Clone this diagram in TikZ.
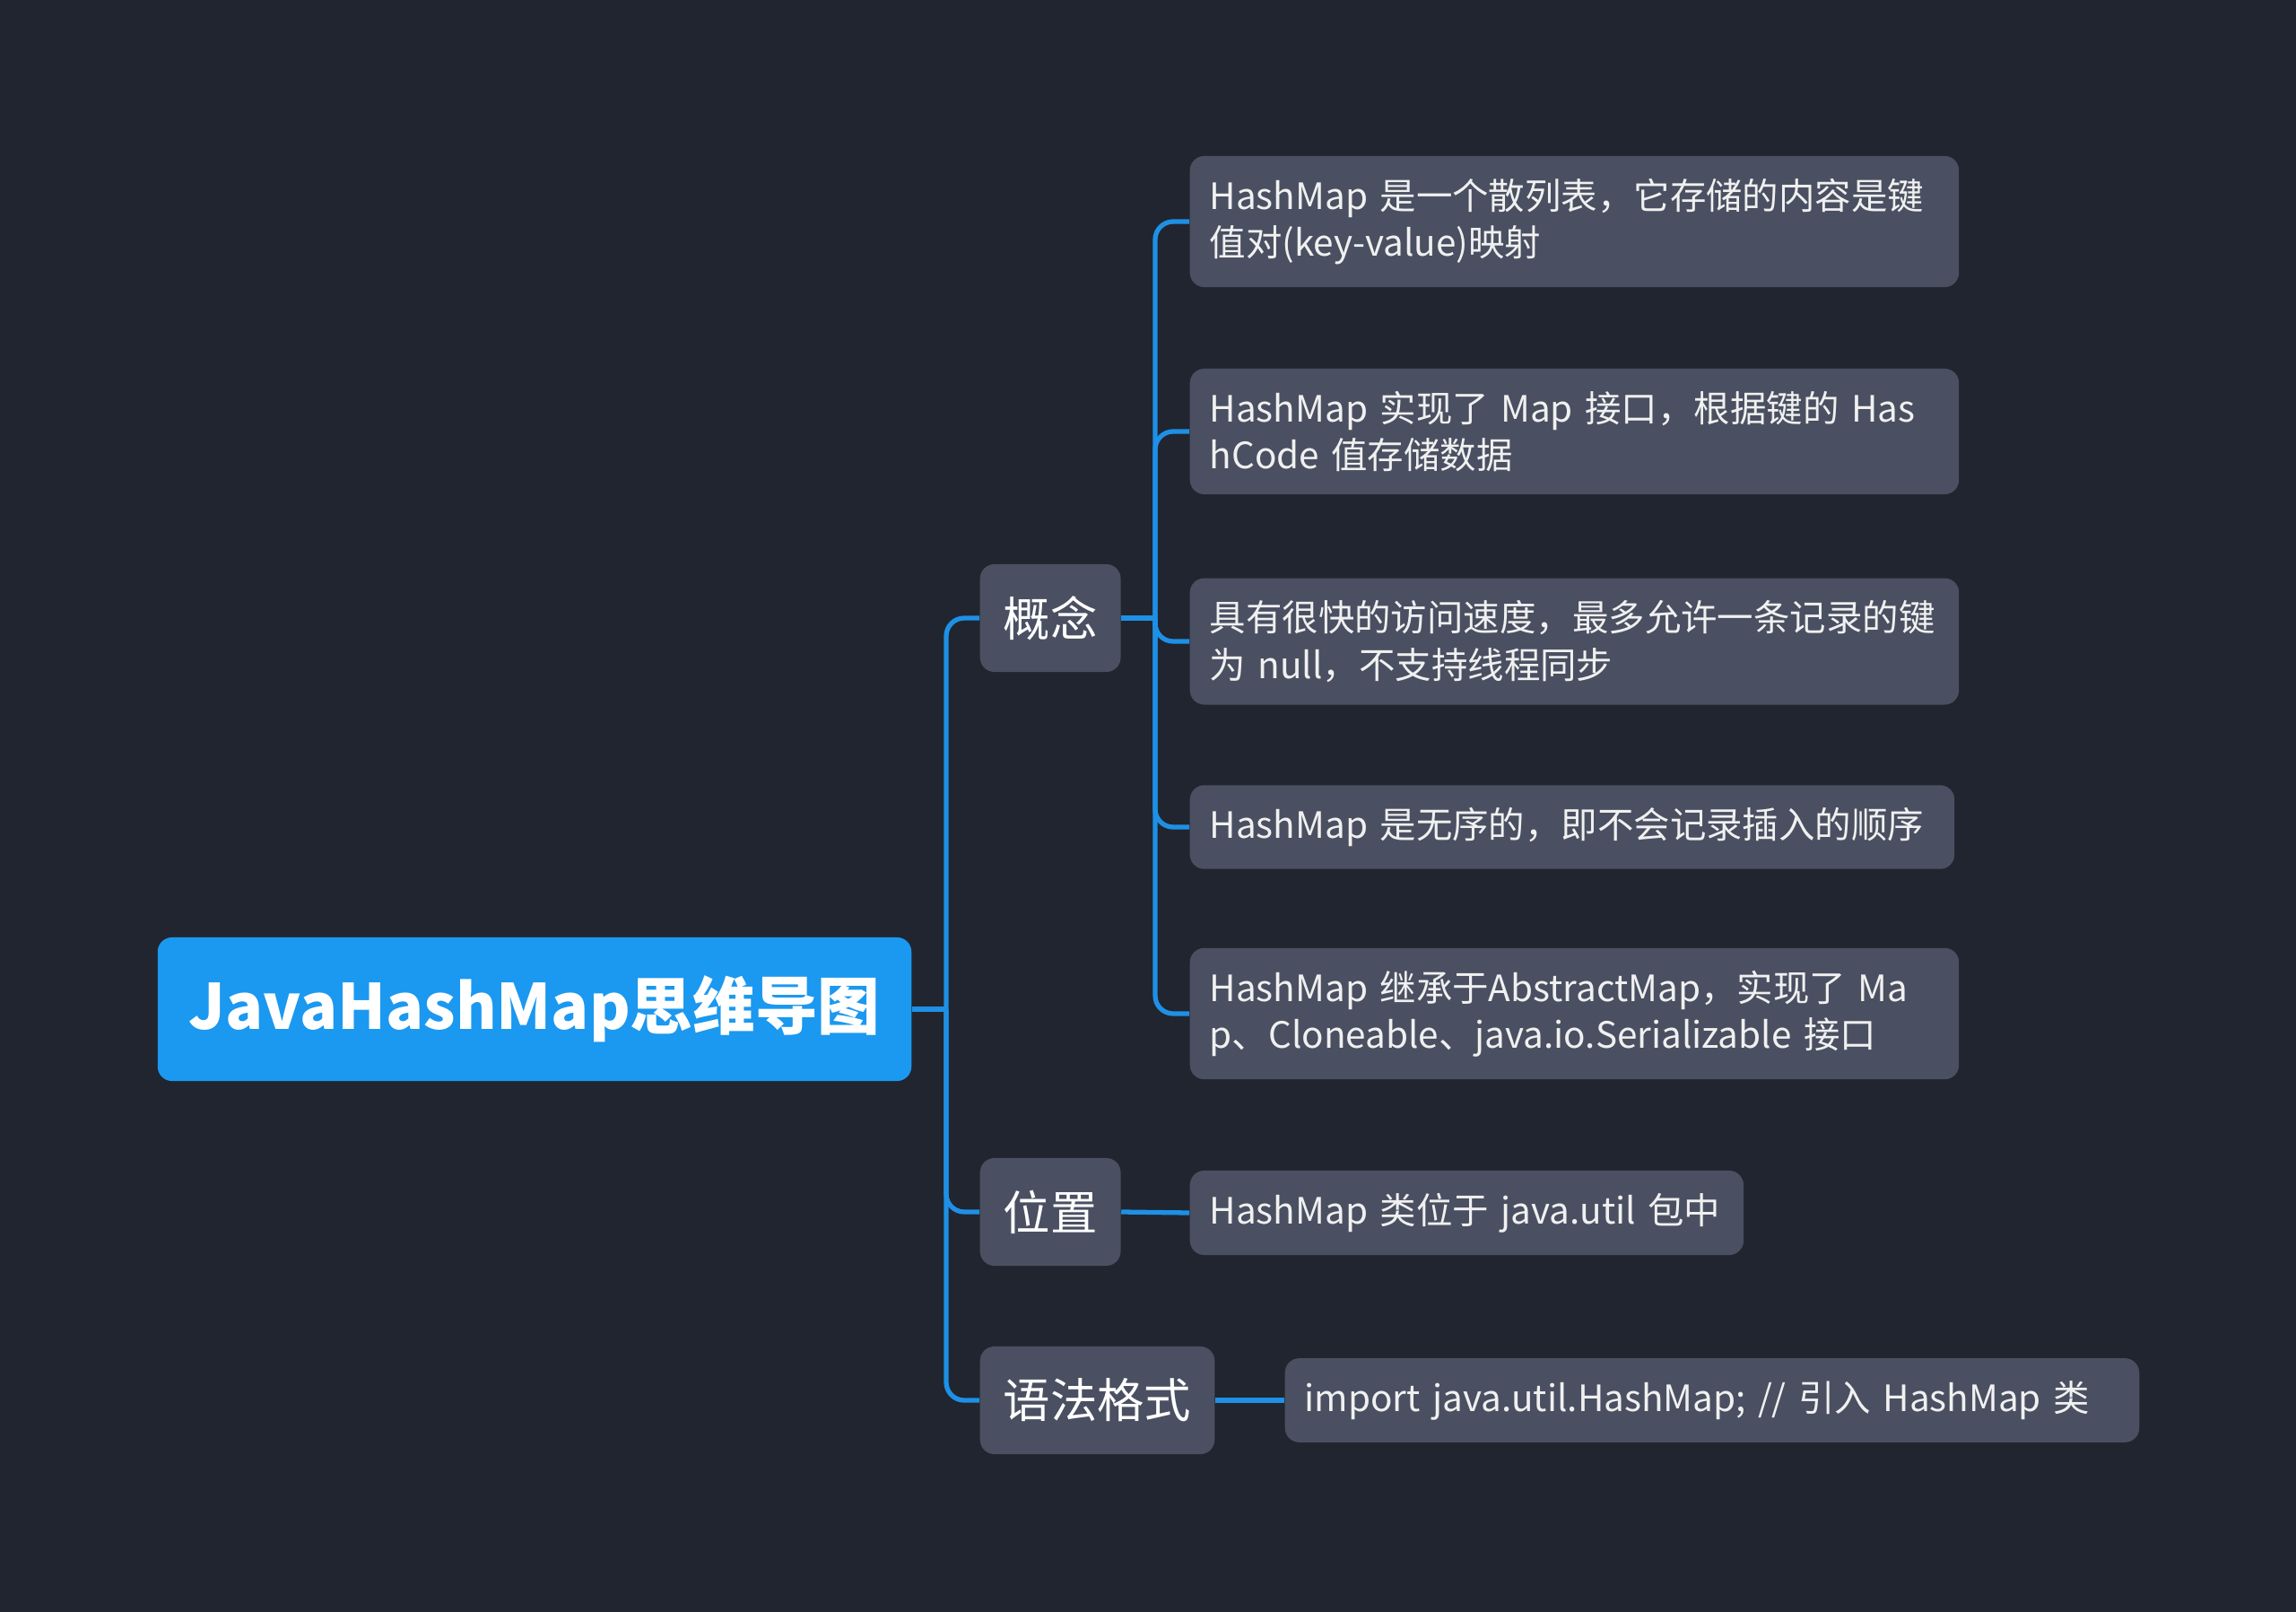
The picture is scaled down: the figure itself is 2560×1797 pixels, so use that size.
\documentclass[tikz,border=0pt]{standalone}
\usepackage{fontspec}
\setmainfont{Noto Sans CJK SC}
\definecolor{bgdark}{HTML}{21252F}
\definecolor{boxgrey}{HTML}{4A5061}
\definecolor{rootblue}{HTML}{1B98F0}
\definecolor{linkblue}{HTML}{1E90E6}
\tikzset{
  rootnode/.style={fill=rootblue, text=white, rounded corners=0.16cm, minimum width=8.4cm, minimum height=1.6cm, font=\fontsize{19.8}{24}\selectfont\bfseries},
  topicnode/.style={fill=boxgrey, text=white, rounded corners=0.16cm, inner xsep=0.26cm, minimum height=1.2cm, font=\fontsize{14.9}{18}\selectfont},
  leafnode/.style={fill=boxgrey, text=white!94!black, rounded corners=0.16cm, inner xsep=0.22cm, inner ysep=0.25cm, minimum height=0.91cm, align=left, font=\fontsize{11.5}{14.9}\selectfont},
  link/.style={draw=linkblue, line width=1.5pt, rounded corners=0.2cm}
}
\begin{document}
\begin{tikzpicture}[x=0.01cm,y=-0.01cm]
    \fill[bgdark] (0,0) rectangle (2560,1797);
    \useasboundingbox (0,0) rectangle (2560,1797);
    % root and its three topics
    \node[rootnode] (root) at (596,1125) {JavaHashMap思维导图};
    \node[topicnode, anchor=west] (gainian) at (1092,689) {概念};
    \node[topicnode, anchor=west] (weizhi) at (1092,1351) {位置};
    \node[topicnode, anchor=west] (yufa) at (1092,1561) {语法格式};
    % leaves
    \node[leafnode, anchor=west, text width=8.13cm] (def) at (1326,247) {HashMap 是一个散列表，它存储的内容是键\\值对(key-value)映射};
    \node[leafnode, anchor=west, text width=8.13cm] (impl) at (1326,481) {HashMap 实现了 Map 接口，根据键的 Has\\hCode 值存储数据};
    \node[leafnode, anchor=west, text width=8.13cm] (speed) at (1326,715) {具有很快的访问速度，最多允许一条记录的键\\为 null，不支持线程同步};
    \node[leafnode, anchor=west, text width=8.08cm] (order) at (1326,922) {HashMap 是无序的，即不会记录插入的顺序};
    \node[leafnode, anchor=west, text width=8.13cm] (inherit) at (1326,1130) {HashMap 继承于AbstractMap，实现了 Ma\\p、Cloneable、java.io.Serializable 接口};
    \node[leafnode, anchor=west, text width=5.73cm] (pkg) at (1326,1352) {HashMap 类位于 java.util 包中};
    \node[leafnode, anchor=west, text width=9.08cm] (imp) at (1432,1561) {import java.util.HashMap; // 引入 HashMap 类};
    % connectors
    \coordinate (trunk) at (1055,1125);
    \draw[link] (root.east) -- (trunk);
    \draw[link] (trunk) |- (gainian.west);
    \draw[link] (trunk) |- (weizhi.west);
    \draw[link] (trunk) |- (yufa.west);
    \coordinate (gtrunk) at (1288,689);
    \draw[link] (gainian.east) -- (gtrunk);
    \draw[link] (gtrunk) |- (def.west);
    \draw[link] (gtrunk) |- (impl.west);
    \draw[link] (gtrunk) |- (speed.west);
    \draw[link] (gtrunk) |- (order.west);
    \draw[link] (gtrunk) |- (inherit.west);
    \draw[link] (weizhi.east) -- (pkg.west);
    \draw[link] (yufa.east) -- (imp.west);
\end{tikzpicture}
\end{document}
